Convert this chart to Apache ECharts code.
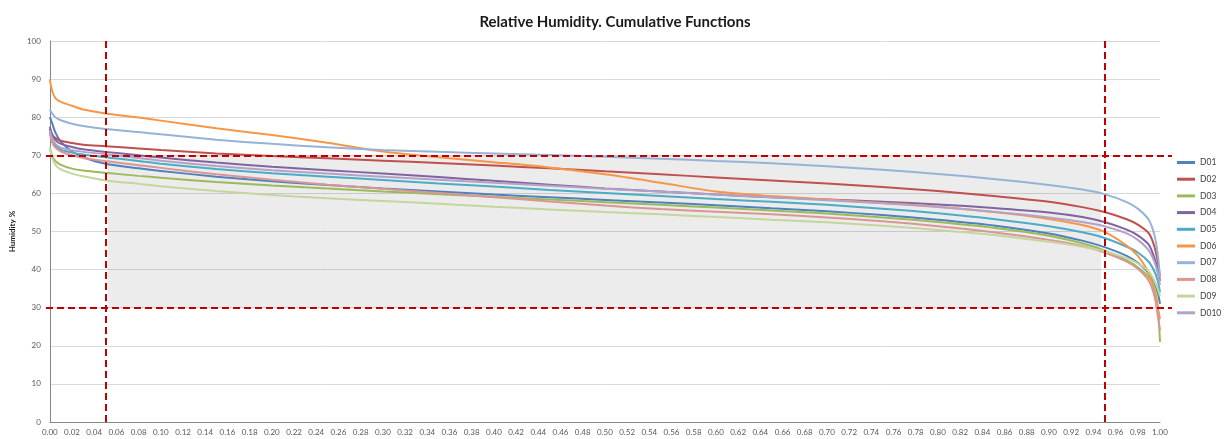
<!DOCTYPE html>
<html>
<head>
<meta charset="utf-8">
<title>Relative Humidity. Cumulative Functions</title>
<script src="https://cdn.jsdelivr.net/npm/echarts@6/dist/echarts.min.js"></script>
<style>
  html, body { margin: 0; padding: 0; background: #ffffff; }
  #chart { width: 1226px; height: 439px; }
</style>
</head>
<body>
<div id="chart"></div>
<script>
// Cumulative probability (x) at which each humidity value is sampled
const probs = [0, 0.002, 0.005, 0.01, 0.02, 0.03, 0.05, 0.08, 0.1, 0.15, 0.2, 0.25, 0.3, 0.35, 0.4, 0.45, 0.5,
  0.55, 0.6, 0.65, 0.7, 0.75, 0.8, 0.85, 0.9, 0.93, 0.95, 0.97, 0.98, 0.99, 0.995, 0.998, 1.0];

// Relative humidity (%) per station
const d01 = [80, 78.5, 76, 73.5, 71, 69.5, 67.8, 66.6, 65.9, 64.4, 63.2, 62.2, 61.3, 60.5, 59.7, 59, 58.3,
  57.6, 56.9, 56.1, 55.3, 54.3, 53.1, 51.6, 49.5, 47.6, 45.9, 43.6, 41.8, 39, 36.5, 34, 31];
const d02 = [77, 75.5, 74.5, 73.8, 73.2, 72.8, 72.4, 71.8, 71.4, 70.5, 69.8, 69.2, 68.6, 68, 67.3, 66.6, 65.8,
  65, 64.2, 63.4, 62.6, 61.7, 60.6, 59.3, 57.8, 56.4, 55.1, 53.2, 51.8, 49.5, 46, 42, 38];
const d03 = [72, 70, 68.5, 67.5, 66.5, 66, 65.4, 64.6, 64.1, 63, 62.1, 61.3, 60.5, 59.8, 59.1, 58.4, 57.7,
  57, 56.3, 55.5, 54.7, 53.7, 52.5, 51, 48.9, 46.9, 45, 42.4, 40.6, 38, 35, 30, 21];
const d04 = [77.5, 75.5, 74, 73, 72.2, 71.6, 70.9, 70, 69.4, 68.1, 67, 66.1, 65.2, 64.3, 63.3, 62.3, 61.3,
  60.5, 59.7, 59, 58.4, 57.8, 57.1, 56.2, 55, 53.8, 52.5, 50.5, 49, 46.5, 43, 40, 37];
const d05 = [76, 74, 72.5, 71.5, 70.7, 70.2, 69.5, 68.5, 67.8, 66.4, 65.3, 64.4, 63.5, 62.6, 61.8, 60.9, 60.1,
  59.3, 58.5, 57.8, 57, 56, 54.8, 53.3, 51.4, 49.8, 48.3, 46, 44.5, 42, 39.5, 37, 34];
const d06 = [90, 87, 85, 84, 83, 82, 81, 79.9, 79.1, 77.1, 75.3, 73.3, 71, 69.5, 68.2, 66.8, 65,
  62.8, 60.5, 59.3, 58.4, 57.5, 56.5, 55.1, 53.3, 51.7, 49.9, 46.3, 43.6, 39, 34, 30, 27];
const d07 = [82, 81, 80, 79.2, 78.3, 77.7, 76.9, 76.1, 75.5, 74.1, 73, 72.1, 71.4, 70.9, 70.5, 70.1, 69.6,
  69.1, 68.5, 67.9, 67.1, 66.2, 65.1, 63.8, 62.2, 61, 59.8, 57.7, 56, 53, 49, 44, 38];
const d08 = [76, 73.5, 72, 71, 70, 69.3, 68.5, 67.4, 66.7, 65, 63.6, 62.3, 61.2, 60.1, 59, 57.9, 56.8,
  55.9, 55.2, 54.5, 53.7, 52.7, 51.4, 49.8, 47.8, 46.2, 44.5, 42.1, 40.2, 37, 33, 28, 24];
const d09 = [72, 69.5, 67.5, 66.3, 65.2, 64.5, 63.4, 62.5, 61.9, 60.6, 59.6, 58.7, 58, 57.3, 56.5, 55.8, 55.1,
  54.5, 53.8, 53.1, 52.4, 51.5, 50.4, 49.1, 47.3, 46, 44.8, 43, 41.6, 39.5, 37, 35, 33];
const d010 = [76.5, 74.5, 73, 72, 71.3, 70.9, 70.3, 69.3, 68.6, 67.2, 66.1, 65.2, 64.4, 63.6, 62.8, 62, 61.2,
  60.5, 59.7, 59, 58.2, 57.4, 56.4, 55.2, 53.7, 52.5, 51.4, 49.5, 47.8, 45, 42, 39, 36];

const seriesNames = ['D01', 'D02', 'D03', 'D04', 'D05', 'D06', 'D07', 'D08', 'D09', 'D010'];
const seriesValues = [d01, d02, d03, d04, d05, d06, d07, d08, d09, d010];
const seriesColors = ['#4F81BD', '#C0504D', '#9BBB59', '#8064A2', '#4BACC6',
  '#F79646', '#95B3D7', '#D99694', '#C3D69B', '#B3A2C7'];

// Reference band: central probability window and humidity limits
const probLimits = [0.052, 0.947];
const humidityLimits = [70, 30];

const font = 'Lato, "Liberation Sans", sans-serif';
const refLine = { color: '#C00000', width: 2, type: [7, 4] };

const chart = echarts.init(document.getElementById('chart'), null, { renderer: 'canvas' });

const lineSeries = seriesNames.map((name, i) => ({
  name: name,
  type: 'line',
  xAxisIndex: 0,
  yAxisIndex: 0,
  data: probs.map((p, k) => [p, seriesValues[i][k]]),
  showSymbol: false,
  smooth: 0.3,
  lineStyle: { width: 2, color: seriesColors[i] },
  itemStyle: { color: seriesColors[i] },
  z: 3
}));

// Shaded window plus the vertical limits
const bandSeries = {
  name: 'band',
  type: 'line',
  xAxisIndex: 0,
  yAxisIndex: 0,
  data: [],
  silent: true,
  z: 1,
  markArea: {
    silent: true,
    itemStyle: { color: 'rgba(0,0,0,0.075)' },
    data: [[{ xAxis: probLimits[0], yAxis: humidityLimits[0] }, { xAxis: probLimits[1], yAxis: humidityLimits[1] }]]
  },
  markLine: {
    silent: true,
    symbol: 'none',
    label: { show: false },
    lineStyle: refLine,
    data: probLimits.map(p => ({ xAxis: p }))
  }
};

// Horizontal limits, drawn on a slightly wider overlay grid
const limitSeries = {
  name: 'limits',
  type: 'line',
  xAxisIndex: 1,
  yAxisIndex: 1,
  data: [],
  silent: true,
  z: 4,
  markLine: {
    silent: true,
    symbol: 'none',
    label: { show: false },
    lineStyle: refLine,
    data: humidityLimits.map(h => ({ yAxis: h }))
  }
};

const option = {
  animation: false,
  backgroundColor: '#ffffff',
  title: {
    text: 'Relative Humidity. Cumulative Functions',
    left: 610,
    textAlign: 'center',
    top: 10,
    textStyle: { fontFamily: font, fontSize: 15, fontWeight: 'bold', color: '#1a1a1a' }
  },
  legend: {
    data: seriesNames,
    orient: 'vertical',
    left: 1177,
    top: 157,
    padding: 0,
    itemWidth: 18,
    itemHeight: 3,
    itemGap: 5.7,
    icon: 'rect',
    textStyle: { fontFamily: font, fontSize: 8.5, color: '#404040', lineHeight: 11 }
  },
  grid: [
    { left: 46, right: 66, top: 41, bottom: 17, containLabel: false },
    { left: 46, right: 54, top: 41, bottom: 17, containLabel: false }
  ],
  xAxis: [
    {
      type: 'value',
      gridIndex: 0,
      min: 0,
      max: 1,
      interval: 0.02,
      axisLine: { show: true, lineStyle: { color: '#868686', width: 1 } },
      axisTick: { show: false },
      splitLine: { show: false },
      axisLabel: {
        fontFamily: font,
        fontSize: 8,
        color: '#595959',
        margin: 6,
        formatter: v => v.toFixed(2)
      }
    },
    { type: 'value', gridIndex: 1, min: 0, max: 1, show: false }
  ],
  yAxis: [
    {
      type: 'value',
      gridIndex: 0,
      min: 0,
      max: 100,
      interval: 10,
      name: 'Humidity %',
      nameLocation: 'middle',
      nameGap: 30,
      nameTextStyle: { fontFamily: font, fontSize: 8, fontWeight: 'bold', color: '#1a1a1a' },
      axisLine: { show: true, lineStyle: { color: '#868686', width: 1 } },
      axisTick: { show: false },
      splitLine: { show: true, lineStyle: { color: '#d9d9d9', width: 1 } },
      axisLabel: { fontFamily: font, fontSize: 8, color: '#595959', margin: 9 }
    },
    { type: 'value', gridIndex: 1, min: 0, max: 100, show: false }
  ],
  series: [bandSeries].concat(lineSeries, [limitSeries])
};

chart.setOption(option);
</script>
</body>
</html>
